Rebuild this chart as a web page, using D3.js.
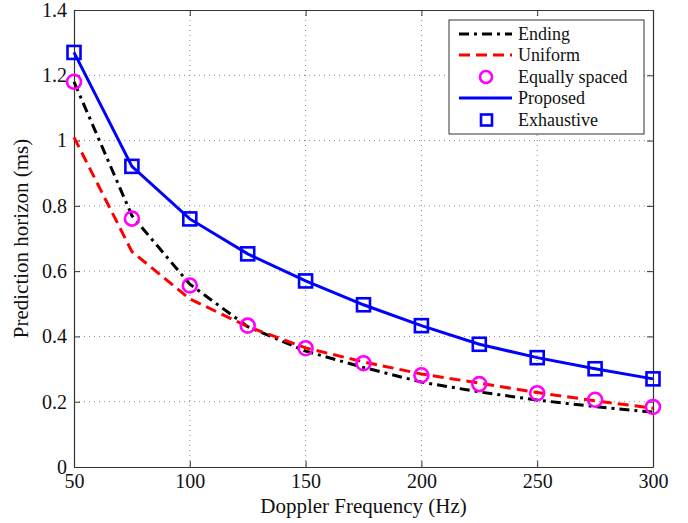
<!DOCTYPE html>
<html>
<head>
<meta charset="utf-8">
<script src="https://cdn.jsdelivr.net/npm/d3@7"></script>
<style>
  body { margin: 0; background: #fff; }
</style>
</head>
<body>
<svg id="chart" width="688" height="523"></svg>
<script>
const doppler = [50, 75, 100, 125, 150, 175, 200, 225, 250, 275, 300]
const ending = [1.18, 0.77, 0.56, 0.43, 0.355, 0.305, 0.26, 0.23, 0.205, 0.185, 0.168]
const uniform = [1.01, 0.66, 0.515, 0.43, 0.365, 0.322, 0.285, 0.257, 0.228, 0.203, 0.18]
const equallySpaced = [1.18, 0.761, 0.556, 0.433, 0.364, 0.318, 0.281, 0.254, 0.226, 0.206, 0.184]
const proposed = [1.27, 0.921, 0.76, 0.653, 0.57, 0.497, 0.433, 0.376, 0.335, 0.301, 0.27]
const exhaustive = [1.27, 0.921, 0.76, 0.653, 0.57, 0.497, 0.433, 0.376, 0.335, 0.301, 0.27]
const xTicks = [50, 100, 150, 200, 250, 300]
const yTicks = [0, 0.2, 0.4, 0.6, 0.8, 1, 1.2, 1.4]

const serif = 'Liberation Serif'
const margin = {left: 74, top: 10, right: 35, bottom: 56}
const width = 688 - margin.left - margin.right
const height = 523 - margin.top - margin.bottom

const svg = d3.select('#chart')
const chart = svg.append('g')
  .attr('transform', `translate(${margin.left}, ${margin.top})`)

const xScale = d3.scaleLinear().domain([50, 300]).range([0, width])
const yScale = d3.scaleLinear().domain([0, 1.4]).range([height, 0])

// dotted grid
chart.append('g').selectAll('line')
  .data(xTicks.slice(1, -1))
  .enter().append('line')
  .attr('x1', d => xScale(d)).attr('x2', d => xScale(d))
  .attr('y1', 0).attr('y2', height)
  .attr('stroke', '#888').attr('stroke-width', 1).attr('stroke-dasharray', '1,4')
chart.append('g').selectAll('line')
  .data(yTicks.slice(1, -1))
  .enter().append('line')
  .attr('y1', d => yScale(d)).attr('y2', d => yScale(d))
  .attr('x1', 0).attr('x2', width)
  .attr('stroke', '#888').attr('stroke-width', 1).attr('stroke-dasharray', '1,4')

// axes, ticks inside like matlab
const fmtY = d => d === 0 ? '0' : (d === 1 ? '1' : d3.format('.1f')(d))
chart.append('g')
  .attr('transform', `translate(0, ${height})`)
  .call(d3.axisBottom(xScale).tickValues(xTicks).tickSizeInner(-6).tickSizeOuter(0).tickPadding(7))
chart.append('g')
  .call(d3.axisLeft(yScale).tickValues(yTicks).tickFormat(fmtY).tickSizeInner(-6).tickSizeOuter(0).tickPadding(7))
chart.append('g')
  .call(d3.axisTop(xScale).tickValues(xTicks).tickFormat('').tickSizeInner(-6).tickSizeOuter(0))
chart.append('g')
  .attr('transform', `translate(${width}, 0)`)
  .call(d3.axisRight(yScale).tickValues(yTicks).tickFormat('').tickSizeInner(-6).tickSizeOuter(0))

chart.selectAll('.domain').attr('stroke', '#333').attr('stroke-width', 1.2)
chart.selectAll('.tick line').attr('stroke', '#333')
chart.selectAll('.tick text').attr('fill', '#111')
  .style('font-family', serif).style('font-size', '20px')

// axis titles
svg.append('text')
  .attr('x', margin.left + width / 2).attr('y', 513)
  .attr('text-anchor', 'middle').attr('fill', '#111')
  .style('font-family', serif).style('font-size', '21px')
  .text('Doppler Frequency (Hz)')
svg.append('text')
  .attr('transform', `translate(28, ${margin.top + height / 2}) rotate(-90)`)
  .attr('text-anchor', 'middle').attr('fill', '#111')
  .style('font-family', serif).style('font-size', '21px')
  .text('Prediction horizon (ms)')

const line = d3.line().x((d, i) => xScale(doppler[i])).y(d => yScale(d))

chart.append('path').datum(ending)
  .attr('d', line).attr('fill', 'none').attr('stroke', '#000')
  .attr('stroke-width', 3).attr('stroke-dasharray', '10,5,3,5')
chart.append('path').datum(uniform)
  .attr('d', line).attr('fill', 'none').attr('stroke', '#f00')
  .attr('stroke-width', 3).attr('stroke-dasharray', '11,6')
chart.selectAll('.circ').data(equallySpaced).enter().append('circle')
  .attr('cx', (d, i) => xScale(doppler[i])).attr('cy', d => yScale(d))
  .attr('r', 7).attr('fill', 'none').attr('stroke', '#f0f').attr('stroke-width', 2.6)
chart.append('path').datum(proposed)
  .attr('d', line).attr('fill', 'none').attr('stroke', '#00f').attr('stroke-width', 3)
chart.selectAll('.sq').data(exhaustive).enter().append('rect')
  .attr('x', (d, i) => xScale(doppler[i]) - 6.5).attr('y', d => yScale(d) - 6.5)
  .attr('width', 13).attr('height', 13)
  .attr('fill', 'none').attr('stroke', '#00f').attr('stroke-width', 2.6)

// legend
const legendNames = ['Ending', 'Uniform', 'Equally spaced', 'Proposed', 'Exhaustive']
const legendY = [34, 55, 77, 98, 120]
const legend = svg.append('g')
legend.append('rect')
  .attr('x', 449).attr('y', 20).attr('width', 195).attr('height', 114)
  .attr('fill', '#fff').attr('stroke', '#333').attr('stroke-width', 1)
legendNames.forEach((name, i) => {
  const y = legendY[i]
  if (i === 0) {
    legend.append('line').attr('x1', 459).attr('x2', 512).attr('y1', y).attr('y2', y)
      .attr('stroke', '#000').attr('stroke-width', 3).attr('stroke-dasharray', '10,5,3,5')
  } else if (i === 1) {
    legend.append('line').attr('x1', 459).attr('x2', 512).attr('y1', y).attr('y2', y)
      .attr('stroke', '#f00').attr('stroke-width', 3).attr('stroke-dasharray', '11,6')
  } else if (i === 2) {
    legend.append('circle').attr('cx', 486).attr('cy', y).attr('r', 6)
      .attr('fill', 'none').attr('stroke', '#f0f').attr('stroke-width', 2.6)
  } else if (i === 3) {
    legend.append('line').attr('x1', 459).attr('x2', 512).attr('y1', y).attr('y2', y)
      .attr('stroke', '#00f').attr('stroke-width', 3)
  } else {
    legend.append('rect').attr('x', 481).attr('y', y - 5.5).attr('width', 11).attr('height', 11)
      .attr('fill', 'none').attr('stroke', '#00f').attr('stroke-width', 2.6)
  }
  legend.append('text').attr('x', 518).attr('y', y + 6).attr('fill', '#111')
    .style('font-family', serif).style('font-size', '18px').text(name)
})
</script>
</body>
</html>
